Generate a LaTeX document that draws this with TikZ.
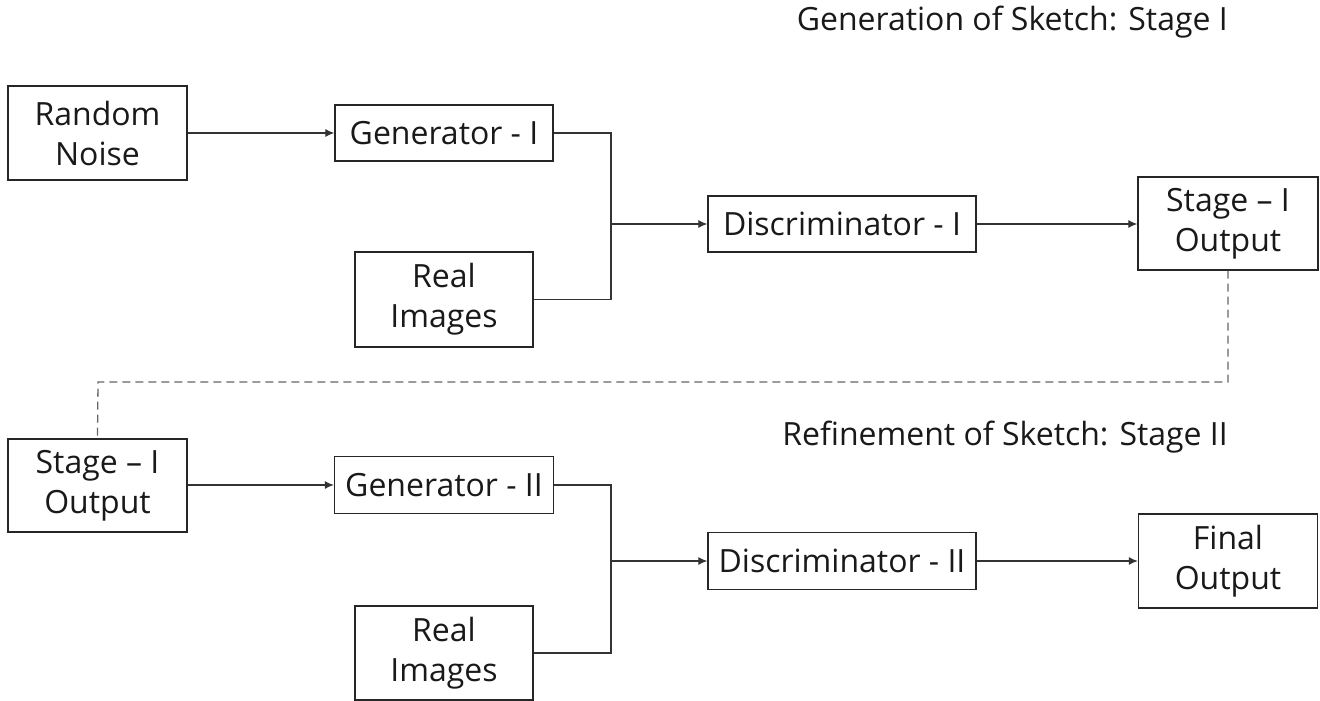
\documentclass[tikz,border=0pt]{standalone}
\usepackage{fontspec}
\setmainfont{Open Sans}
\usetikzlibrary{arrows.meta}
\tikzset{
  box/.style={draw=black!85, line width=1.3pt, rectangle, inner sep=0pt, align=center,
    font=\fontsize{32}{40}\selectfont, text=black!90},
  conn/.style={draw=black!80, line width=1.2pt},
  arr/.style={conn, -{Latex[length=9pt,width=8pt]}},
  dashconn/.style={draw=black!60, line width=1.3pt, dash pattern=on 8pt off 5pt},
  title/.style={font=\fontsize{32}{36}\selectfont, text=black!90, inner sep=0pt, anchor=base east}
}
\begin{document}
\begin{tikzpicture}[x=1pt,y=-1pt]
\useasboundingbox (0,0) rectangle (1320,701);
% titles
\node[title] (t1) at (1228,31) {Generation of Sketch: Stage I};
\node[title] (t2) at (1228,445) {Refinement of Sketch: Stage II};
% stage I
\node[box, minimum width=179pt, minimum height=94pt] (rn) at (97.5,133) {Random\\Noise};
\node[box, minimum width=218pt, minimum height=56pt] (g1) at (444,133) {Generator - I};
\node[box, minimum width=178pt, minimum height=95pt] (r1) at (444,299.5) {Real\\Images};
\coordinate (j1) at (611,224);
\node[box, minimum width=268pt, minimum height=56pt] (d1) at (842,224) {Discriminator - I};
\node[box, minimum width=180pt, minimum height=93pt] (s1) at (1228,223.5) {Stage -- I\\Output};
% stage II
\node[box, minimum width=179pt, minimum height=93pt] (s2) at (97.5,485.5) {Stage -- I\\Output};
\node[box, minimum width=219pt, minimum height=57pt] (g2) at (444,485) {Generator - II};
\node[box, minimum width=178pt, minimum height=94pt] (r2) at (444,653) {Real\\Images};
\coordinate (j2) at (611,561);
\node[box, minimum width=268pt, minimum height=57pt] (d2) at (842,561) {Discriminator - II};
\node[box, minimum width=179pt, minimum height=94pt] (fo) at (1228,561) {Final\\Output};
\coordinate (dc) at (98,382);
% connectors stage I
\draw[arr] (rn.east |- g1.west) -- (g1.west);
\draw[conn] (g1.east) -| (j1);
\draw[conn] (r1.east) -| (j1);
\draw[arr] (j1) -- (d1.west);
\draw[arr] (d1.east) -- (s1.west |- d1.east);
% dashed link
\draw[dashconn] (s1.south) |- (dc) -- (s2.north);
% connectors stage II
\draw[arr] (s2.east |- g2.west) -- (g2.west);
\draw[conn] (g2.east) -| (j2);
\draw[conn] (r2.east) -| (j2);
\draw[arr] (j2) -- (d2.west);
\draw[arr] (d2.east) -- (fo.west);
\end{tikzpicture}
\end{document}
